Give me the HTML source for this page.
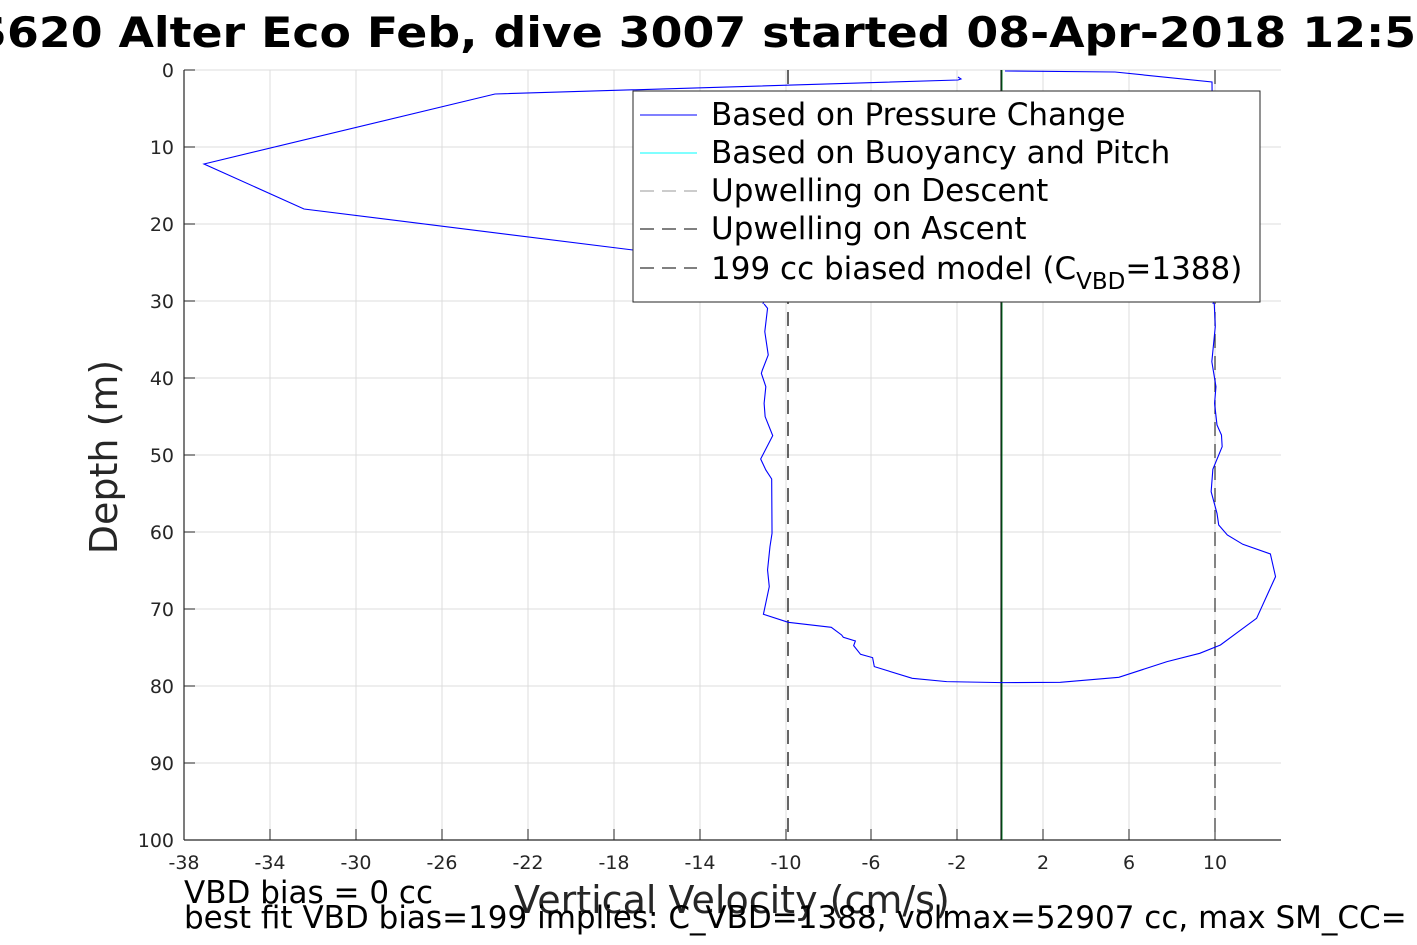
<!DOCTYPE html>
<html><head><meta charset="utf-8"><style>
html,body{margin:0;padding:0;background:#fff;}
svg{display:block;font-family:"DejaVu Sans","Liberation Sans",sans-serif;}
</style></head><body>
<svg width="1417" height="945" viewBox="0 0 1417 945" xmlns="http://www.w3.org/2000/svg">
<rect width="1417" height="945" fill="#fff"/>
<g stroke="#dcdcdc" stroke-width="1">
<line x1="184" y1="147" x2="1281" y2="147"/><line x1="184" y1="224" x2="1281" y2="224"/>
<line x1="184" y1="301" x2="1281" y2="301"/><line x1="184" y1="378" x2="1281" y2="378"/>
<line x1="184" y1="455" x2="1281" y2="455"/><line x1="184" y1="532" x2="1281" y2="532"/>
<line x1="184" y1="609" x2="1281" y2="609"/><line x1="184" y1="686" x2="1281" y2="686"/>
<line x1="184" y1="763" x2="1281" y2="763"/><line x1="184" y1="70" x2="1281" y2="70"/>
<line x1="270" y1="70" x2="270" y2="840"/><line x1="356" y1="70" x2="356" y2="840"/>
<line x1="442" y1="70" x2="442" y2="840"/><line x1="528" y1="70" x2="528" y2="840"/>
<line x1="614" y1="70" x2="614" y2="840"/><line x1="700" y1="70" x2="700" y2="840"/>
<line x1="786" y1="70" x2="786" y2="840"/><line x1="871" y1="70" x2="871" y2="840"/>
<line x1="957" y1="70" x2="957" y2="840"/><line x1="1043" y1="70" x2="1043" y2="840"/>
<line x1="1129" y1="70" x2="1129" y2="840"/><line x1="1215" y1="70" x2="1215" y2="840"/>
</g>
<g stroke="#262626" stroke-width="1.2">
<line x1="184" y1="70" x2="184" y2="840"/><line x1="184" y1="840" x2="1281" y2="840"/>
</g>
<g stroke="#262626" stroke-width="1">
<line x1="184" y1="70" x2="195" y2="70"/><line x1="184" y1="147" x2="195" y2="147"/><line x1="184" y1="224" x2="195" y2="224"/>
<line x1="184" y1="301" x2="195" y2="301"/><line x1="184" y1="378" x2="195" y2="378"/><line x1="184" y1="455" x2="195" y2="455"/>
<line x1="184" y1="532" x2="195" y2="532"/><line x1="184" y1="609" x2="195" y2="609"/><line x1="184" y1="686" x2="195" y2="686"/>
<line x1="184" y1="763" x2="195" y2="763"/>
<line x1="270" y1="840" x2="270" y2="829"/><line x1="356" y1="840" x2="356" y2="829"/><line x1="442" y1="840" x2="442" y2="829"/>
<line x1="528" y1="840" x2="528" y2="829"/><line x1="614" y1="840" x2="614" y2="829"/><line x1="700" y1="840" x2="700" y2="829"/>
<line x1="786" y1="840" x2="786" y2="829"/><line x1="871" y1="840" x2="871" y2="829"/><line x1="957" y1="840" x2="957" y2="829"/>
<line x1="1043" y1="840" x2="1043" y2="829"/><line x1="1129" y1="840" x2="1129" y2="829"/><line x1="1215" y1="840" x2="1215" y2="829"/>
</g>
<g font-size="19" fill="#262626" text-anchor="end">
<text x="174" y="77">0</text><text x="174" y="154">10</text><text x="174" y="231">20</text><text x="174" y="308">30</text>
<text x="174" y="385">40</text><text x="174" y="462">50</text><text x="174" y="539">60</text><text x="174" y="616">70</text>
<text x="174" y="693">80</text><text x="174" y="770">90</text><text x="174" y="847">100</text>
</g>
<g font-size="19" fill="#262626" text-anchor="middle">
<text x="184" y="869">-38</text><text x="270" y="869">-34</text><text x="356" y="869">-30</text><text x="442" y="869">-26</text>
<text x="528" y="869">-22</text><text x="614" y="869">-18</text><text x="700" y="869">-14</text><text x="786" y="869">-10</text>
<text x="871" y="869">-6</text><text x="957" y="869">-2</text><text x="1043" y="869">2</text><text x="1129" y="869">6</text><text x="1215" y="869">10</text>
</g>
<line x1="788" y1="70" x2="788" y2="840" stroke="#000" stroke-width="1.2" stroke-dasharray="14 8"/>
<line x1="1215" y1="70" x2="1215" y2="840" stroke="#333" stroke-width="1.2" stroke-dasharray="14 8"/>
<line x1="1001" y1="70" x2="1001" y2="840" stroke="#000" stroke-width="1"/>
<line x1="1002" y1="70" x2="1002" y2="840" stroke="#0a7a2a" stroke-width="1"/>
<polyline fill="none" stroke="#0000ff" stroke-width="1.1" points="958,77 961,79 958,80 495,94 204,164 304,209 633,250 765,265 764,300 763,304"/>
<polyline fill="none" stroke="#0000ff" stroke-width="1.1" points="1005,71 1115,72 1212,82 1214,300 1213,304"/>
<g transform="translate(740,280) scale(0.3444,0.3333)">
<polyline fill="none" stroke="#0000ff" stroke-width="1.1" vector-effect="non-scaling-stroke" points="70,72 80,85 72,155 82,225 65,270 62,280 75,320 70,370 73,410 95,467 60,537 75,570 92,597 93,760 87,800 80,870 85,920 68,1003 140,1027 265,1042 295,1065 300,1072 335,1083 330,1097 350,1123 385,1133 390,1160 500,1195 600,1205 760,1208 930,1207 1100,1192 1240,1145 1335,1120 1395,1095 1500,1015 1555,890 1540,822 1460,793 1415,765 1390,735 1385,700 1368,635 1373,568 1400,500 1398,465 1385,435 1378,370 1382,320 1370,245 1380,140 1377,70"/>
</g>
<rect x="633" y="91" width="627" height="211" fill="#fff" stroke="#262626" stroke-width="1"/>
<line x1="640" y1="115" x2="697" y2="115" stroke="#0000ff" stroke-width="1"/>
<line x1="640" y1="153" x2="697" y2="153" stroke="#00ffff" stroke-width="1"/>
<line x1="640" y1="191" x2="697" y2="191" stroke="#999" stroke-width="1" stroke-dasharray="14 8"/>
<line x1="640" y1="229" x2="697" y2="229" stroke="#000" stroke-width="1" stroke-dasharray="14 8"/>
<line x1="640" y1="268" x2="697" y2="268" stroke="#000" stroke-width="1" stroke-dasharray="14 8"/>
<g font-size="31" fill="#000">
<text x="711" y="125">Based on Pressure Change</text>
<text x="711" y="163">Based on Buoyancy and Pitch</text>
<text x="711" y="201">Upwelling on Descent</text>
<text x="711" y="239">Upwelling on Ascent</text>
<text x="711" y="279">199 cc biased model (C<tspan font-size="23" dy="10">VBD</tspan><tspan dy="-10">=1388)</tspan></text>
</g>
<text x="-26" y="47" font-size="42" font-weight="bold" fill="#000" textLength="1474" lengthAdjust="spacingAndGlyphs">S620 Alter Eco Feb, dive 3007 started 08-Apr-2018 12:57</text>
<text x="732" y="913" font-size="38" fill="#262626" text-anchor="middle">Vertical Velocity (cm/s)</text>
<text transform="translate(117,457) rotate(-90)" font-size="38" fill="#262626" text-anchor="middle">Depth (m)</text>
<text x="184" y="903" font-size="31" fill="#000">VBD bias = 0 cc</text>
<text x="184" y="928" font-size="31" fill="#000">best fit VBD bias=199 implies: C_VBD=1388, volmax=52907 cc, max SM_CC=</text>
</svg>
</body></html>
